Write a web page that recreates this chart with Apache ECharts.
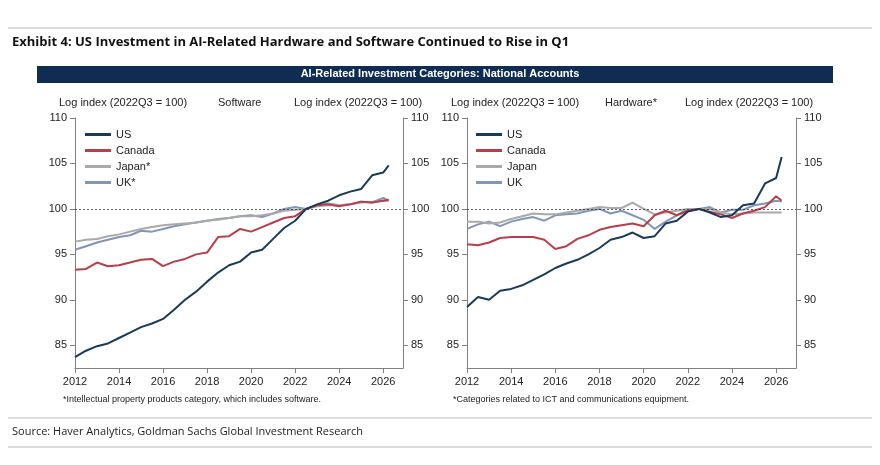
<!DOCTYPE html>
<html><head><meta charset="utf-8">
<script src="https://cdn.jsdelivr.net/npm/echarts@6/dist/echarts.min.js"></script>
<style>html,body{margin:0;background:#fff}#c{width:880px;height:465px}</style>
</head><body><div id="c"></div>
<script>
const xs = [2012,2012.5,2013,2013.5,2014,2014.5,2015,2015.5,2016,2016.5,2017,2017.5,2018,2018.5,2019,2019.5,2020,2020.5,2021,2021.5,2022,2022.5,2023,2023.5,2024,2024.5,2025,2025.5,2026,2026.25];
const swUS=[83.7,84.4,84.9,85.2,85.8,86.4,87.0,87.4,87.9,88.9,90.0,90.9,92.0,93.0,93.8,94.2,95.2,95.5,96.7,97.9,98.7,100,100.5,100.9,101.5,101.9,102.2,103.7,104.0,104.8];
const swCA=[93.3,93.4,94.1,93.7,93.8,94.1,94.4,94.5,93.7,94.2,94.5,95.0,95.2,96.9,97.0,97.8,97.5,98.0,98.5,99.0,99.2,100,100.4,100.5,100.3,100.5,100.8,100.7,100.9,101.0];
const swJP=[96.4,96.6,96.7,97.0,97.2,97.5,97.8,98.0,98.2,98.3,98.4,98.5,98.7,98.8,99.0,99.2,99.2,99.3,99.5,99.8,99.9,100,100.3,100.4,100.4,100.5,100.7,100.8,100.9,100.9];
const swUK=[95.5,95.9,96.3,96.6,96.9,97.1,97.6,97.5,97.8,98.1,98.3,98.5,98.7,98.9,99.0,99.2,99.3,99.1,99.5,100.0,100.2,100,100.4,100.6,100.4,100.5,100.8,100.7,101.2,100.9];
const hwUS=[89.2,90.3,90.0,91.0,91.2,91.6,92.2,92.8,93.5,94.0,94.4,95.0,95.7,96.6,96.9,97.4,96.8,97.0,98.4,98.7,99.7,100,99.6,99.1,99.3,100.4,100.6,102.8,103.4,105.7];
const hwCA=[96.1,96.0,96.3,96.8,96.9,96.9,96.9,96.6,95.6,95.9,96.7,97.1,97.7,98.0,98.2,98.4,98.1,99.3,99.8,99.3,99.8,100,99.7,99.4,99.0,99.5,99.8,100.2,101.4,100.9];
const hwJP=[98.6,98.6,98.4,98.5,98.9,99.2,99.5,99.4,99.4,99.6,99.8,100.0,100.2,100.1,100.1,100.7,100.0,99.4,99.6,99.8,100.0,100,100.0,99.6,99.4,99.5,99.6,99.6,99.6,99.6];
const hwUK=[97.8,98.3,98.6,98.1,98.6,98.9,99.1,98.7,99.3,99.4,99.5,99.8,100.0,99.5,99.8,99.3,98.8,97.8,98.6,99.3,100.0,100,100.2,99.6,99.9,99.9,100.4,100.6,100.9,100.8];
const yTicks=[85,90,95,100,105,110];
const xTicks=[2012,2014,2016,2018,2020,2022,2024,2026];
const colors={US:'#1b3a57',Canada:'#b5404a',Japan:'#a9a9a9',UK:'#8096b4'};
const pair=a=>xs.map((x,i)=>[x,a[i]]);
const F='"Liberation Sans", Arial, sans-serif';
const grids=[{left:75,right:477,top:118,bottom:97},{left:467,right:84,top:118,bottom:97}];
const xAxis=[0,1].map(g=>({type:'value',gridIndex:g,min:2012,max:2026.9,
  axisLine:{lineStyle:{color:'#808080'}},axisTick:{show:true,customValues:xTicks,lineStyle:{color:'#808080'}},
  axisLabel:{customValues:xTicks,color:'#222',fontSize:11,fontFamily:F,formatter:v=>String(v)},splitLine:{show:false}}));
const yAxis=[];
[0,1].forEach(g=>['left','right'].forEach(p=>yAxis.push({type:'value',gridIndex:g,position:p,min:82.5,max:110,
  axisLine:{show:true,onZero:false,lineStyle:{color:'#808080'}},axisTick:{show:true,customValues:yTicks,lineStyle:{color:'#808080'}},
  axisLabel:{customValues:yTicks,color:'#222',fontSize:11,fontFamily:F},splitLine:{show:false}})));
function mk(name,data,g,c,mark){
  const s={name,type:'line',data:pair(data),xAxisIndex:g,yAxisIndex:g*2,showSymbol:false,
    lineStyle:{width:2,color:c},itemStyle:{color:c},z:name.startsWith('US')?5:3};
  if(mark) s.markLine={silent:true,symbol:'none',label:{show:false},lineStyle:{color:'#333',type:[2,2],width:0.8},data:[{yAxis:100}]};
  return s;
}
const series=[
  mk('UK*',swUK,0,colors.UK,true),mk('Japan*',swJP,0,colors.Japan),mk('Canada',swCA,0,colors.Canada),mk('US',swUS,0,colors.US),
  mk('UK',hwUK,1,colors.UK,true),mk('Japan',hwJP,1,colors.Japan),mk('Canada ',hwCA,1,colors.Canada),mk('US ',hwUS,1,colors.US)];
const leg=(left,data)=>({left,top:124,orient:'vertical',itemGap:5,itemWidth:26,itemHeight:3,icon:'rect',
  textStyle:{fontSize:11,fontFamily:F,color:'#222'},data});
const txt=(l,t,s,extra)=>Object.assign({type:'text',left:l,top:t,style:{text:s,font:'11px '+F,fill:'#222'}},extra||{});
const chart=echarts.init(document.getElementById('c'));
chart.setOption({animation:false,
  grid:grids,xAxis,yAxis,series,
  legend:[leg(80,['US','Canada','Japan*','UK*']),leg(471,['US ','Canada ','Japan','UK'])],
  graphic:[
    {type:'line',shape:{x1:8,y1:28,x2:872,y2:28},style:{stroke:'#bbb',lineWidth:1}},
    {type:'text',left:12,top:36,style:{text:'Exhibit 4: US Investment in AI-Related Hardware and Software Continued to Rise in Q1',font:'bold 13px "Open Sans", sans-serif',fill:'#111'}},
    {type:'rect',shape:{x:37,y:66,width:796,height:17},style:{fill:'#0f2d52'}},
    {type:'text',left:'center',top:68,style:{text:'AI-Related Investment Categories: National Accounts',font:'bold 11px '+F,fill:'#fff'}},
    txt(59,97,'Log index (2022Q3 = 100)'),txt(218,97,'Software'),txt(294,97,'Log index (2022Q3 = 100)'),
    txt(451,97,'Log index (2022Q3 = 100)'),txt(605,97,'Hardware*'),txt(685,97,'Log index (2022Q3 = 100)'),
    txt(63,395,'*Intellectual property products category, which includes software.',{style:{text:'*Intellectual property products category, which includes software.',font:'9px '+F,fill:'#222'}}),
    txt(453,395,'',{style:{text:'*Categories related to ICT and communications equipment.',font:'9px '+F,fill:'#222'}}),
    {type:'line',shape:{x1:8,y1:418,x2:872,y2:418},style:{stroke:'#bbb',lineWidth:1}},
    {type:'text',left:12,top:426,style:{text:'Source: Haver Analytics, Goldman Sachs Global Investment Research',font:'11px "Open Sans", sans-serif',fill:'#222'}},
    {type:'line',shape:{x1:8,y1:447,x2:872,y2:447},style:{stroke:'#bbb',lineWidth:1}}
  ]});
</script></body></html>
